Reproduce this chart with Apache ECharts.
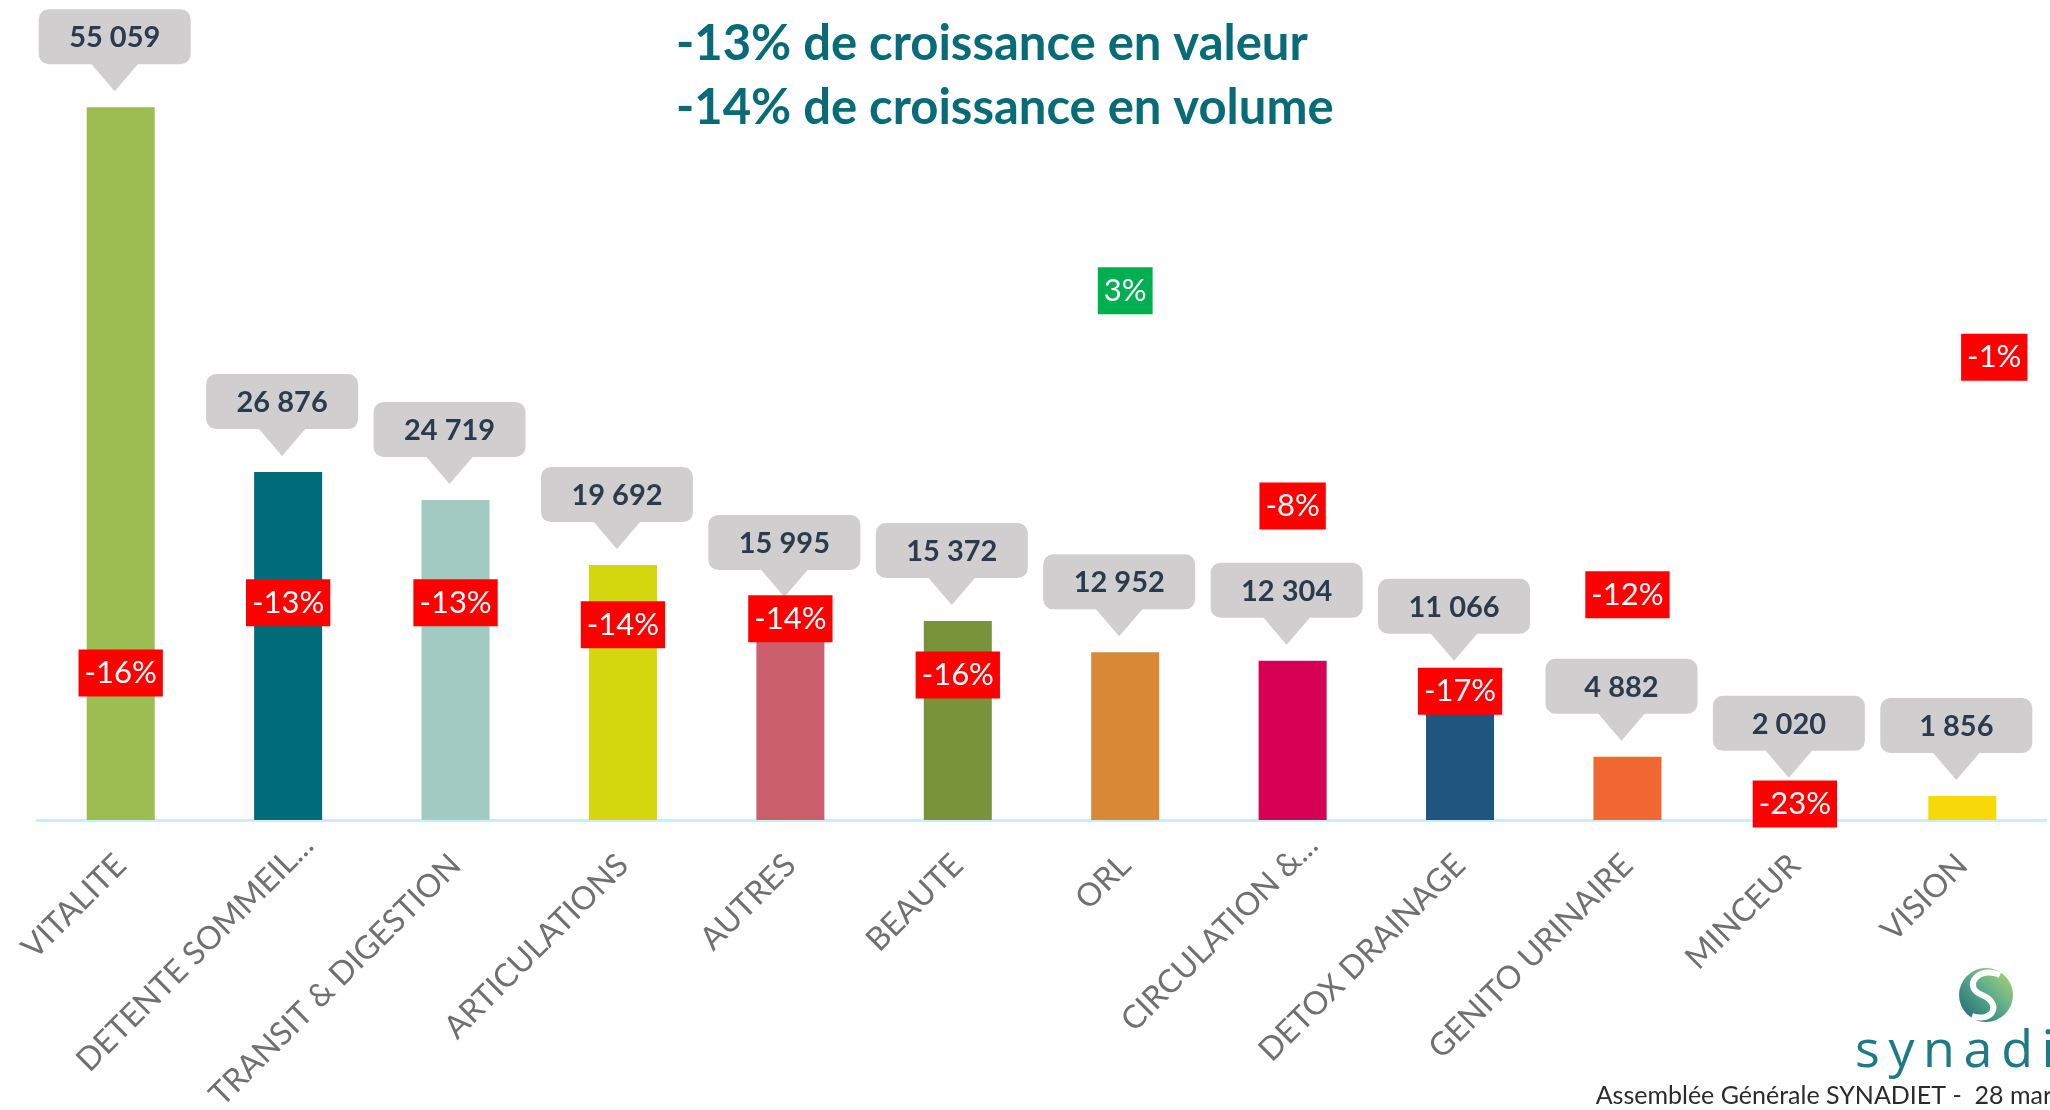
<!DOCTYPE html>
<html>
<head>
<meta charset="utf-8">
<script src="https://cdn.jsdelivr.net/npm/echarts@6.0.0/dist/echarts.min.js"></script>
<style>
  html, body { margin: 0; padding: 0; background: #fff; }
  #chart { width: 2050px; height: 1110px; }
</style>
</head>
<body>
<div id="chart"></div>
<script>
// categories and values
const categories = [
    'VITALITE',
    'DETENTE SOMMEIL...',
    'TRANSIT & DIGESTION',
    'ARTICULATIONS',
    'AUTRES',
    'BEAUTE',
    'ORL',
    'CIRCULATION &...',
    'DETOX DRAINAGE',
    'GENITO URINAIRE',
    'MINCEUR',
    'VISION'
];
const salesValues = [55059, 26876, 24719, 19692, 15995, 15372, 12952, 12304, 11066, 4882, 2020, 1856];
// growth in %, estimated from label heights (labels show rounded numbers)
const growthValues = [-16.3, -12.8, -12.8, -13.9, -13.6, -16.4, 2.7, -8.0, -17.2, -12.4, -22.8, -0.6];

const barColors = ['#9bbd52', '#006b79', '#a2cac2', '#d5d70e', '#cb5f6c', '#78933a',
    '#d98836', '#d60054', '#1f557e', '#f06732', '#8064a2', '#f7d90b'];

// the last growth label was nudged right on the slide
const labelNudge = { 11: [32, 0] };

const fmtThousands = (v) => String(v).replace(/\B(?=(\d{3})+(?!\d))/g, ' ');

const chart = echarts.init(document.getElementById('chart'));

const option = {
    animation: false,
    backgroundColor: '#ffffff',
    grid: { left: 37, right: 4, top: 43.3, bottom: 290, outerBoundsMode: 'none' },
    xAxis: {
        type: 'category',
        data: categories,
        axisTick: { show: false },
        axisLine: { lineStyle: { color: '#c8eff6', width: 3 } },
        axisLabel: {
            interval: 0,
            rotate: 45,
            margin: 40,
            color: '#707070',
            fontFamily: 'Lato',
            fontSize: 32,
            // truncated names sit a little further right in the original
            formatter: (v) => (v.endsWith('...') ? '{t|' + v + '}' : v),
            rich: {
                t: { color: '#707070', fontFamily: 'Lato', fontSize: 32, padding: [0, -28, 0, 0] }
            }
        }
    },
    yAxis: [
        { type: 'value', min: 0, max: 60000, show: false, splitLine: { show: false } },
        { type: 'value', min: -23.6, max: 15, show: false, splitLine: { show: false } }
    ],
    series: [
        {
            name: 'CA',
            type: 'bar',
            data: salesValues,
            barWidth: 68,
            itemStyle: { color: (p) => barColors[p.dataIndex] },
            z: 2
        },
        {
            // grey callouts above each bar
            name: 'callouts',
            type: 'custom',
            data: salesValues.map((v, i) => [i, v]),
            z: 3,
            renderItem: (params, api) => {
                const p = api.coord([api.value(0), api.value(1)]);
                const cx = p[0] - 6;
                const tipY = p[1] - 16;
                const bw = 152, bh = 55, ph = 27;
                return {
                    type: 'group',
                    children: [
                        {
                            type: 'rect',
                            shape: { x: cx - bw / 2, y: tipY - ph - bh, width: bw, height: bh, r: 10 },
                            style: { fill: '#d0cecf' }
                        },
                        {
                            type: 'polygon',
                            shape: { points: [[cx - 24, tipY - ph - 1], [cx + 24, tipY - ph - 1], [cx, tipY]] },
                            style: { fill: '#d0cecf' }
                        },
                        {
                            type: 'text',
                            x: cx,
                            y: tipY - ph - bh / 2 + 1,
                            style: {
                                text: fmtThousands(api.value(1)),
                                fill: '#2b3b4f',
                                font: 'bold 29px Lato',
                                align: 'center',
                                verticalAlign: 'middle'
                            }
                        }
                    ]
                };
            }
        },
        {
            name: 'Croissance',
            type: 'scatter',
            yAxisIndex: 1,
            symbolSize: 2,
            itemStyle: { color: 'rgba(255,255,255,0)', opacity: 1 },
            z: 5,
            data: growthValues.map((g, i) => ({
                value: g,
                label: {
                    backgroundColor: g >= 0 ? '#00b050' : '#ff0000',
                    offset: labelNudge[i] || [0, 0]
                }
            })),
            label: {
                show: true,
                position: 'inside',
                formatter: (p) => Math.round(p.value) + '%',
                color: '#ffffff',
                fontFamily: 'Lato',
                fontSize: 31,
                lineHeight: 31,
                padding: [8, 6]
            }
        }
    ],
    graphic: [
        {
            type: 'text',
            x: 676,
            y: 44,
            style: {
                text: '-13% de croissance en valeur',
                fill: '#086b78',
                font: 'bold 49px Lato',
                verticalAlign: 'middle'
            }
        },
        {
            type: 'text',
            x: 676,
            y: 108,
            style: {
                text: '-14% de croissance en volume',
                fill: '#086b78',
                font: 'bold 49px Lato',
                verticalAlign: 'middle'
            }
        },
        {
            // logo swirl
            type: 'group',
            x: 1986,
            y: 995,
            children: [
                {
                    type: 'circle',
                    shape: { cx: 0, cy: 0, r: 27 },
                    style: {
                        fill: new echarts.graphic.LinearGradient(1, 0, 0, 1, [
                            { offset: 0, color: '#b5d86e' },
                            { offset: 0.45, color: '#5fae8a' },
                            { offset: 1, color: '#1a6478' }
                        ])
                    }
                },
                {
                    type: 'bezierCurve',
                    shape: { x1: 14, y1: -20, cpx1: -8, cpy1: -30, cpx2: -24, cpy2: -8, x2: -4, y2: 0 },
                    style: { fill: null, stroke: '#ffffff', lineWidth: 6 }
                },
                {
                    type: 'bezierCurve',
                    shape: { x1: -4, y1: 0, cpx1: 16, cpy1: 8, cpx2: 8, cpy2: 28, x2: -14, y2: 21 },
                    style: { fill: null, stroke: '#ffffff', lineWidth: 6 }
                }
            ]
        },
        {
            type: 'text',
            x: 1855,
            y: 1078,
            style: {
                text: 's\u2009y\u2009n\u2009a\u2009d\u2009i',
                fill: '#1e7a85',
                font: '52px "Open Sans"',
                verticalAlign: 'bottom'
            }
        },
        {
            type: 'text',
            x: 2052,
            y: 1096,
            style: {
                text: 'Assemblée Générale SYNADIET -  28 mar',
                fill: '#2b2b2b',
                font: '25px Lato',
                align: 'right',
                verticalAlign: 'middle'
            }
        }
    ]
};

chart.setOption(option);
</script>
</body>
</html>
